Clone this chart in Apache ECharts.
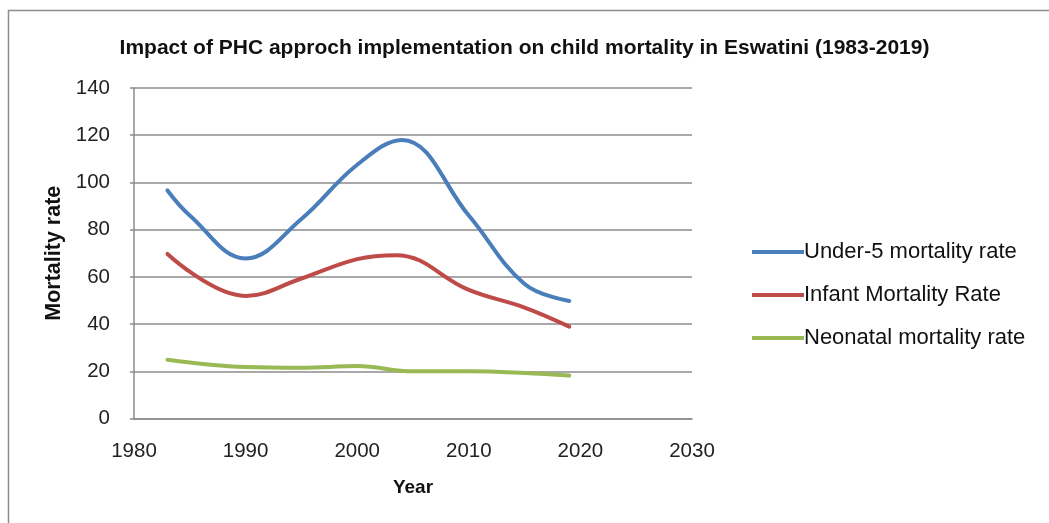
<!DOCTYPE html>
<html>
<head>
<meta charset="utf-8">
<script src="https://cdn.jsdelivr.net/npm/echarts@6/dist/echarts.min.js"></script>
<style>
  html, body { margin: 0; padding: 0; background: #fff; }
  #chart { width: 1049px; height: 523px; }
</style>
</head>
<body>
<div id="chart"></div>
<script>
// Child mortality in Eswatini, per 1,000 live births
const titleText = 'Impact of PHC approch implementation on child mortality in Eswatini (1983-2019)';
const seriesNames = ['Under-5 mortality rate', 'Infant Mortality Rate', 'Neonatal mortality rate'];

const under5 = [[1983, 96.6], [1985, 86], [1990, 67.8], [1995, 84.5], [2000, 107.5], [2004, 118], [2010, 86], [2015, 57], [2019, 49.8]];
const infant = [[1983, 69.7], [1990, 51.9], [1995, 59.3], [2000, 67.5], [2003.5, 69.2], [2010, 54.5], [2015, 47], [2019, 38.9]];
const neonatal = [[1983, 24.9], [1990, 21.8], [1995, 21.5], [2000, 22.2], [2005, 20], [2010, 20], [2015, 19.3], [2019, 18.2]];

const xTicks = { min: 1980, max: 2030, interval: 10 };
const yTicks = { min: 0, max: 140, interval: 20 };

const colors = ['#4a7ebb', '#be4b48', '#98b954'];
const FONT = '"Liberation Sans", Arial, sans-serif';

const chart = echarts.init(document.getElementById('chart'), null, { renderer: 'canvas' });

function lineSeries(name, data, color) {
  return {
    name: name,
    type: 'line',
    data: data,
    smooth: 0.4,
    symbol: 'none',
    lineStyle: { color: color, width: 4, cap: 'round' },
    itemStyle: { color: color }
  };
}

chart.setOption({
  animation: false,
  color: colors,
  graphic: [{
    type: 'rect',
    shape: { x: 8.5, y: 10.5, width: 1100, height: 600 },
    style: { fill: 'none', stroke: '#8c8c8c', lineWidth: 1.5 },
    silent: true
  }],
  title: {
    text: titleText,
    left: 'center',
    top: 33,
    textStyle: { fontFamily: FONT, fontWeight: 'bold', fontSize: 21, color: '#111' }
  },
  grid: { left: 134, right: 357, top: 88, bottom: 104.5, containLabel: false },
  legend: {
    orient: 'vertical',
    left: 747,
    top: 236,
    itemWidth: 52,
    itemHeight: 18,
    itemGap: 21,
    icon: 'path://M0,7 L52,7 L52,11 L0,11 Z',
    textStyle: { fontFamily: FONT, fontSize: 22, color: '#111', padding: [0, 0, 0, -5] },
    data: seriesNames
  },
  xAxis: {
    type: 'value',
    min: xTicks.min, max: xTicks.max, interval: xTicks.interval,
    name: 'Year',
    nameLocation: 'middle',
    nameGap: 60,
    nameTextStyle: { fontFamily: FONT, fontWeight: 'bold', fontSize: 19, color: '#111' },
    axisLine: { show: true, lineStyle: { color: '#8c8c8c', width: 1.5 } },
    axisTick: { show: false },
    axisLabel: { fontFamily: FONT, fontSize: 20.5, color: '#222', margin: 22, formatter: v => String(v) },
    splitLine: { show: false }
  },
  yAxis: {
    type: 'value',
    min: yTicks.min, max: yTicks.max, interval: yTicks.interval,
    name: 'Mortality rate',
    nameLocation: 'middle',
    nameGap: 66,
    nameTextStyle: { fontFamily: FONT, fontWeight: 'bold', fontSize: 21.5, color: '#111' },
    axisLine: { show: true, lineStyle: { color: '#8c8c8c', width: 1.5 } },
    axisTick: { show: true, inside: false, length: 4, lineStyle: { color: '#8c8c8c', width: 1.5 } },
    axisLabel: { fontFamily: FONT, fontSize: 20.5, color: '#222', margin: 24 },
    splitLine: { show: true, lineStyle: { color: '#8c8c8c', width: 1.5 } }
  },
  series: [
    lineSeries(seriesNames[0], under5, colors[0]),
    lineSeries(seriesNames[1], infant, colors[1]),
    lineSeries(seriesNames[2], neonatal, colors[2])
  ]
});
</script>
</body>
</html>
